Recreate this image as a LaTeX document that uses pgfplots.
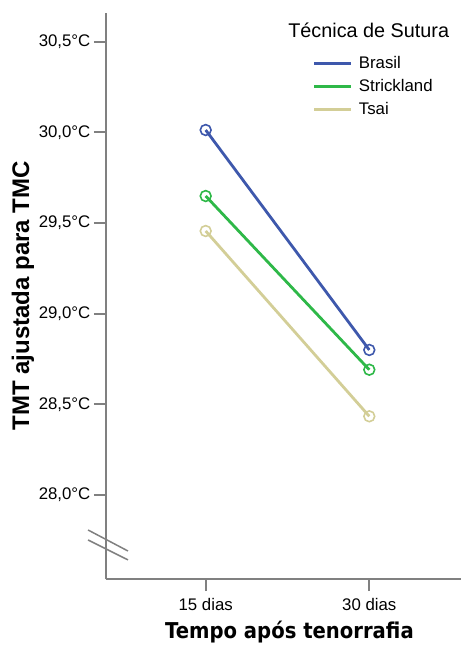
\documentclass[border=0pt]{standalone}
\usepackage{fontspec}
\setmainfont{Liberation Sans}
\newfontfamily\xtfont[FakeStretch=0.9]{DejaVu Sans}
\usepackage{pgfplots}
\pgfplotsset{compat=1.18}
\definecolor{cBr}{RGB}{62,88,172}
\definecolor{cSt}{RGB}{46,184,72}
\definecolor{cTs}{RGB}{211,206,151}
\definecolor{axgray}{RGB}{128,128,128}
\begin{document}
\begin{tikzpicture}
\useasboundingbox (-52.85pt,-32.85pt) rectangle (177.65pt,289.65pt);
\begin{axis}[
  at={(0pt,0pt)}, anchor=south west,
  scale only axis, width=177.65pt, height=283.3pt,
  xmin=-0.6112, xmax=1.5605, ymin=27.535, ymax=30.66,
  axis x line*=bottom, axis y line*=left,
  axis line style={-, draw=axgray, line width=1pt},
  xtick={0,1}, xticklabels={15 dias, 30 dias},
  ytick={28,28.5,29,29.5,30,30.5},
  yticklabels={{28,0°C},{28,5°C},{29,0°C},{29,5°C},{30,0°C},{30,5°C}},
  tick align=outside, major tick length=5.85pt,
  tick style={draw=axgray, line width=1pt},
  ticklabel style={font=\fontsize{8.4}{10}\selectfont, text=black},
  yticklabel style={inner sep=0pt, xshift=-1.65pt},
  clip=false,
  legend style={at={(axis cs:0.654,30.4446)}, anchor=north west, draw=none, fill=none,
    inner sep=0pt, font=\fontsize{8.4}{10}\selectfont,
    nodes={inner sep=0pt, minimum height=11.5pt}, column sep=3pt},
  legend cell align=left,
  legend image code/.code={\draw[#1, mark=none] (0pt,0pt) -- (18.5pt,0pt);},
]
\addplot[axgray, line width=0.75pt, forget plot] coordinates {(-0.719,27.807) (-0.475,27.691)};
\addplot[axgray, line width=0.75pt, forget plot] coordinates {(-0.719,27.752) (-0.475,27.642)};
\addplot[cBr, line width=1.4pt, mark=o, mark size=2.7pt, mark options={line width=0.8pt}] coordinates {(0,30.013) (1,28.800)};
\addlegendentry{Brasil}
\addplot[cSt, line width=1.4pt, mark=o, mark size=2.7pt, mark options={line width=0.8pt}] coordinates {(0,29.649) (1,28.691)};
\addlegendentry{Strickland}
\addplot[cTs, line width=1.4pt, mark=o, mark size=2.7pt, mark options={line width=0.8pt}] coordinates {(0,29.456) (1,28.434)};
\addlegendentry{Tsai}
\node[font=\bfseries\fontsize{12}{14}\selectfont, rotate=90, anchor=center] at (axis cs:-1.117,29.098) {TMT ajustada para TMC};
\node[font=\xtfont\bfseries\fontsize{10.9}{13}\selectfont, anchor=base] at (axis cs:0.512,27.206) {Tempo após tenorrafia};
\node[font=\fontsize{9.9}{12}\selectfont, anchor=base west, inner sep=0pt] at (axis cs:0.503,30.5245) {Técnica de Sutura};
\end{axis}
\end{tikzpicture}
\end{document}
